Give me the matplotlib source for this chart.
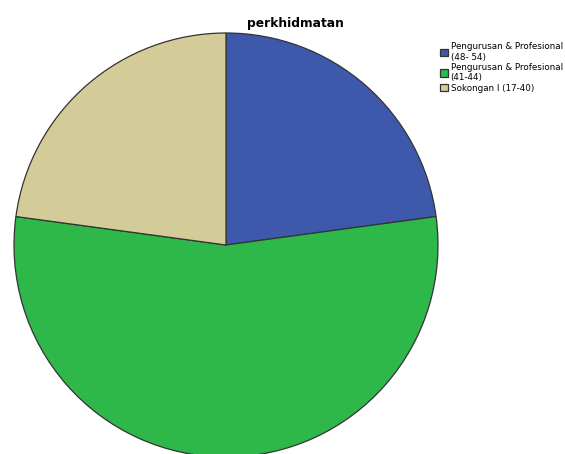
import matplotlib.pyplot as plt

labels = ["Pengurusan & Profesional\n(48- 54)",
          "Pengurusan & Profesional\n(41-44)",
          "Sokongan I (17-40)"]
counts = [8, 19, 8]
colors = ["#3e58ac", "#2fb84a", "#d4cc98"]

fig = plt.figure(figsize=(5.65, 4.54), dpi=100)

# pie axes: centre ~ (226, 245) px, radius ~ 212 px
ax = fig.add_axes([14 / 565, -3 / 454, 424 / 565, 424 / 454])
wedges, _ = ax.pie(counts, colors=colors, startangle=90, counterclock=False,
                   radius=1.0,
                   wedgeprops=dict(edgecolor="#333333", linewidth=0.9))
ax.set_xlim(-1, 1)
ax.set_ylim(-1, 1)
ax.set_aspect("equal")
for w in wedges:
    w.set_clip_on(False)

fig.text(295 / 565, 1 - 27 / 454, "perkhidmatan", ha="center", va="baseline",
         fontsize=8.8, fontweight="bold")

fig.legend(wedges, labels, loc="upper left",
           bbox_to_anchor=(434 / 565, 1 - 36 / 454), frameon=False,
           fontsize=6.3, handlelength=0.9, handleheight=0.9,
           handletextpad=0.3, labelspacing=0.15, borderpad=0.2)

fig.savefig("out.png", dpi=100)
